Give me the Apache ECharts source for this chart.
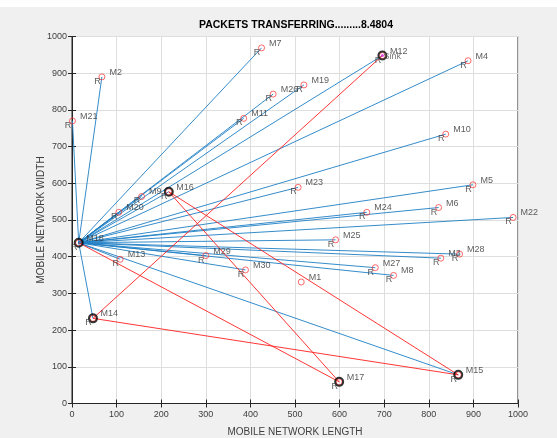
<!DOCTYPE html>
<html><head><meta charset="utf-8">
<script src="https://cdn.jsdelivr.net/npm/echarts@6/dist/echarts.min.js"></script>
<style>html,body{margin:0;padding:0;background:#f0f0f0}#c{width:557px;height:438px}</style>
</head><body><div id="c"></div>
<script>
// ---- data ----
const nodeNames = ['M1','M2','M3','M4','M5','M6','M7','M8','M9','M10','M11','M12','M13','M14','M15','M16','M17','M18','M19','M20','M21','M22','M23','M24','M25','M26','M27','M28','M29','M30'];
const nodeX = [514, 67, 827, 888, 899, 822, 425, 721, 156, 838, 385, 696, 108, 47, 866, 217, 599, 15, 520, 105, 1, 989, 507, 661, 591, 451, 680, 869, 300, 389];
const nodeY = [331, 890, 396, 934, 596, 534, 969, 349, 564, 734, 777, 948, 393, 232, 78, 577, 59, 438, 868, 521, 770, 507, 589, 521, 446, 843, 370, 407, 403, 364];
const hubNode = 'M18';
const sinkNode = 'M12';
const blueTargets = ['M2','M3','M4','M5','M6','M7','M8','M9','M10','M11','M12','M13','M14','M15','M16','M19','M20','M21','M22','M23','M24','M25','M26','M27','M28','M29','M30'];
const redFrom = ['M18','M16','M16','M14','M14'];
const redTo   = ['M17','M17','M15','M15','M12'];
const pathNodes = ['M18','M16','M14','M12','M17','M15'];
const noRelayNodes = ['M1'];
const axisTicks = [0,100,200,300,400,500,600,700,800,900,1000];
const titleText = 'PACKETS TRANSFERRING.........8.4804';
const xName = 'MOBILE NETWORK LENGTH';
const yName = 'MOBILE NETWORK WIDTH';

// ---- build ----
const pos = {};
nodeNames.forEach((n,i)=>{pos[n]=[nodeX[i],nodeY[i]];});
const blueLines = blueTargets.map(t=>({coords:[pos[hubNode],pos[t]]}));
const redLines = redFrom.map((f,i)=>({coords:[pos[f],pos[redTo[i]]]}));
const allPts = nodeNames.map(n=>({name:n,value:pos[n]}));
const relayPts = nodeNames.filter(n=>noRelayNodes.indexOf(n)<0).map(n=>({name:n,value:pos[n]}));
const blackPts = pathNodes.map(n=>({name:n,value:pos[n]}));

const F = 'Liberation Sans, Arial, Helvetica, sans-serif';
const tmin = axisTicks[0], tmax = axisTicks[axisTicks.length-1], tint = axisTicks[1]-axisTicks[0];
const axBase = {type:'value',min:tmin,max:tmax,interval:tint,
  axisLine:{show:true,lineStyle:{color:'#262626',width:1}},
  axisTick:{show:true,inside:true,length:4,lineStyle:{color:'#262626'}}};
const fmt = v => String(v);

const chart = echarts.init(document.getElementById('c'),null,{renderer:'canvas'});
chart.setOption({
  animation:false,
  backgroundColor:'#f0f0f0',
  grid:{left:72,right:39,top:36.5,bottom:34.5,show:true,backgroundColor:'#ffffff',borderColor:'#262626',borderWidth:1},
  graphic:[
    {type:'rect',shape:{x:0,y:0,width:557,height:7},style:{fill:'#ffffff'},z:-1},
    {type:'text',x:296,y:25,style:{text:titleText,font:'bold 10.5px '+F,fill:'#000',textAlign:'center',textVerticalAlign:'middle'}},
    {type:'text',x:295,y:432.5,style:{text:xName,font:'10px '+F,fill:'#404040',textAlign:'center',textVerticalAlign:'middle'}},
    {type:'text',x:41,y:220,rotation:Math.PI/2,style:{text:yName,font:'10px '+F,fill:'#404040',textAlign:'center',textVerticalAlign:'middle'}}
  ],
  xAxis:[
    Object.assign({},axBase,{position:'bottom',
      axisLabel:{show:true,margin:7,color:'#404040',fontSize:9,fontFamily:F,formatter:fmt},
      splitLine:{show:true,lineStyle:{color:'#dedede',width:1}}}),
    Object.assign({},axBase,{position:'top',axisLabel:{show:false},splitLine:{show:false}})
  ],
  yAxis:[
    Object.assign({},axBase,{position:'left',
      axisLabel:{show:true,margin:5,color:'#404040',fontSize:9,fontFamily:F,formatter:fmt},
      splitLine:{show:true,lineStyle:{color:'#dedede',width:1}}}),
    Object.assign({},axBase,{position:'right',axisLabel:{show:false},splitLine:{show:false}})
  ],
  series:[
    {type:'lines',coordinateSystem:'cartesian2d',xAxisIndex:0,yAxisIndex:0,z:3,
      lineStyle:{color:'#1f7fc4',width:1,opacity:0.9},data:blueLines},
    {type:'lines',coordinateSystem:'cartesian2d',xAxisIndex:0,yAxisIndex:0,z:4,
      lineStyle:{color:'#ff2020',width:1,opacity:0.9},data:redLines},
    {type:'scatter',z:5,symbol:'circle',symbolSize:6,silent:true,
      itemStyle:{color:'rgba(255,255,255,0)',borderColor:'#ff3030',borderWidth:0.9},data:allPts},
    {type:'scatter',z:6,symbol:'circle',symbolSize:8,silent:true,
      itemStyle:{color:'rgba(255,255,255,0)',borderColor:'#000',borderWidth:2},data:blackPts},
    {type:'scatter',z:6,symbol:'circle',symbolSize:3,silent:true,
      itemStyle:{color:'#e020e0'},data:[{name:sinkNode,value:pos[sinkNode]}]},
    {type:'scatter',z:7,symbolSize:1,silent:true,itemStyle:{color:'rgba(0,0,0,0)'},
      label:{show:true,position:'inside',formatter:'R',align:'center',verticalAlign:'middle',offset:[-4.5,4.5],
        color:'#333',fontSize:9,fontFamily:F},data:relayPts},
    {type:'scatter',z:7,symbolSize:1,silent:true,itemStyle:{color:'rgba(0,0,0,0)'},
      label:{show:true,position:'inside',formatter:p=>p.name,align:'left',verticalAlign:'middle',offset:[7.5,-4.5],
        color:'#333',fontSize:9,fontFamily:F},data:allPts},
    {type:'scatter',z:7,symbolSize:1,silent:true,itemStyle:{color:'rgba(0,0,0,0)'},
      label:{show:true,position:'inside',formatter:'Sink',align:'left',verticalAlign:'middle',offset:[1,1],
        color:'#555',fontSize:9,fontFamily:F},data:[{name:sinkNode,value:pos[sinkNode]}]}
  ]
});
</script></body></html>
